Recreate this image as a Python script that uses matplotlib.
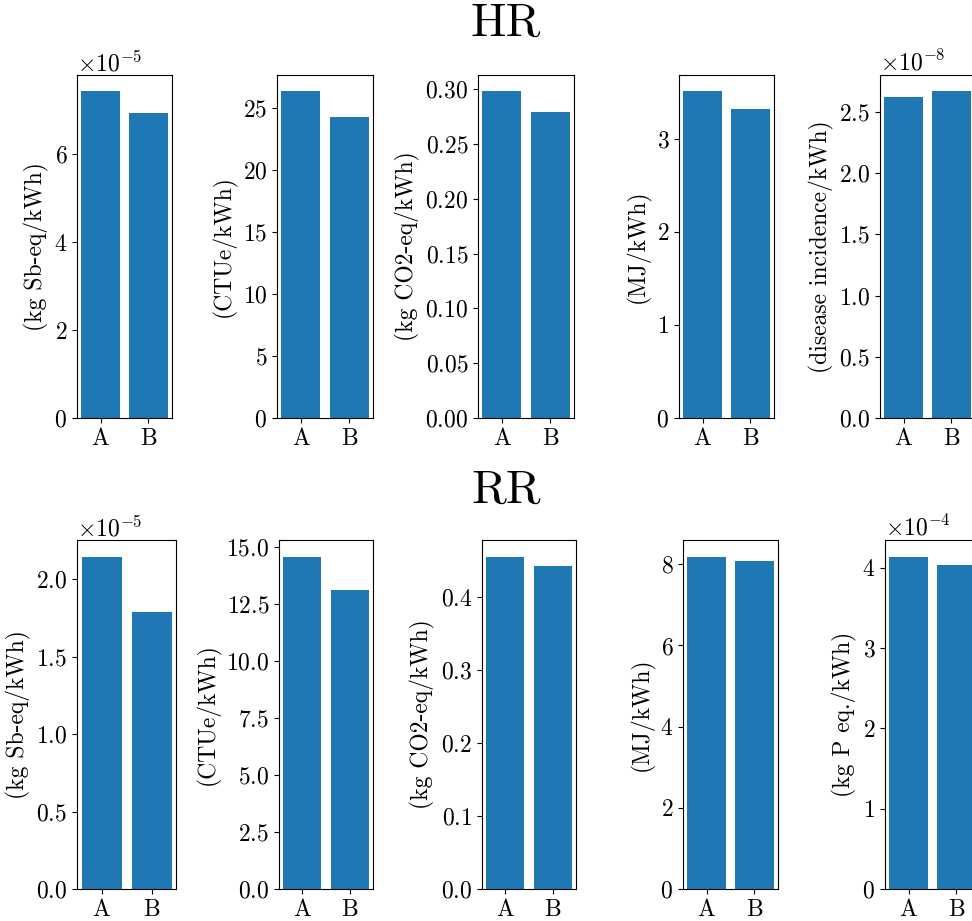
import matplotlib
matplotlib.use("Agg")
import matplotlib.pyplot as plt

plt.rcParams['font.family'] = 'serif'
plt.rcParams['font.serif'] = ['cmr10']
plt.rcParams['mathtext.fontset'] = 'cm'
plt.rcParams['axes.formatter.use_mathtext'] = True
plt.rcParams['font.size'] = 17

scenarios = ['A', 'B']

hr_units = ['(kg Sb-eq/kWh)', '(CTUe/kWh)', '(kg CO2-eq/kWh)',
            '(MJ/kWh)', '(disease incidence/kWh)']
hr_a = [7.43e-5, 26.35, 0.298, 3.51, 2.62e-8]
hr_b = [6.94e-5, 24.25, 0.279, 3.315, 2.667e-8]

rr_units = ['(kg Sb-eq/kWh)', '(CTUe/kWh)', '(kg CO2-eq/kWh)',
            '(MJ/kWh)', '(kg P eq./kWh)']
rr_a = [2.146e-5, 14.58, 0.4554, 8.19, 4.137e-4]
rr_b = [1.79e-5, 13.10, 0.4421, 8.07, 4.03e-4]

W, H = 972, 921
fig = plt.figure(figsize=(W / 100, H / 100), dpi=100)
fig.patch.set_facecolor('white')

# pixel boxes (left, right) for each row, measured on the picture
top_boxes = [(77, 172), (277, 373), (478, 574), (679, 774), (880, 975)]
bot_boxes = [(77, 176), (279, 373), (482, 576), (683, 778), (885, 980)]


def draw_row(boxes, y_top, y_bot, units, a_vals, b_vals):
    for (x0, x1), unit, a, b in zip(boxes, units, a_vals, b_vals):
        ax = fig.add_axes([x0 / W, 1 - y_bot / H, (x1 - x0) / W, (y_bot - y_top) / H])
        ax.bar(scenarios, [a, b], color='#1f77b4')
        ax.set_ylabel(unit)
        ax.ticklabel_format(axis='y', style='sci', scilimits=(-3, 4))


draw_row(top_boxes, 75, 418, hr_units, hr_a, hr_b)
draw_row(bot_boxes, 540, 889, rr_units, rr_a, rr_b)

fig.text(506 / W, 1 - 24 / H, 'HR', ha='center', va='center', fontsize=34)
fig.text(506 / W, 1 - 491 / H, 'RR', ha='center', va='center', fontsize=34)

fig.savefig('out.png', dpi=100)
